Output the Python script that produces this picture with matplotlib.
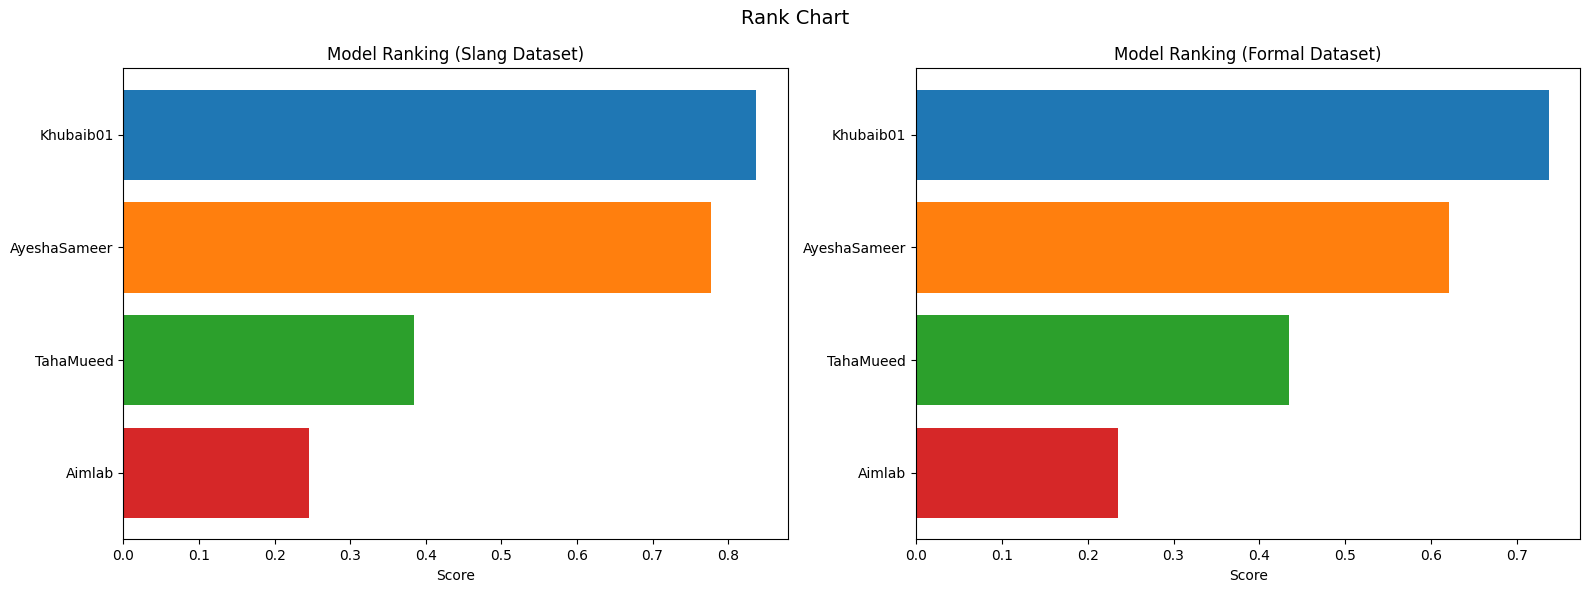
import matplotlib
matplotlib.use("Agg")
import matplotlib.pyplot as plt

models = ['Khubaib01', 'AyeshaSameer', 'TahaMueed', 'Aimlab']
slang_scores = [0.837, 0.778, 0.384, 0.245]
formal_scores = [0.737, 0.621, 0.435, 0.235]
colors = ['tab:blue', 'tab:orange', 'tab:green', 'tab:red']

fig, axes = plt.subplots(1, 2, figsize=(15.9, 5.92), dpi=100)

for ax, scores, title in zip(axes, [slang_scores, formal_scores],
                             ['Model Ranking (Slang Dataset)', 'Model Ranking (Formal Dataset)']):
    ax.barh(models, scores, color=colors)
    ax.invert_yaxis()
    ax.set_xlabel('Score')
    ax.set_title(title)

fig.suptitle('Rank Chart', fontsize=14, y=0.985)
fig.subplots_adjust(left=0.0776, right=0.9939, bottom=0.089, top=0.8846, wspace=0.193)
plt.savefig('out.png')
